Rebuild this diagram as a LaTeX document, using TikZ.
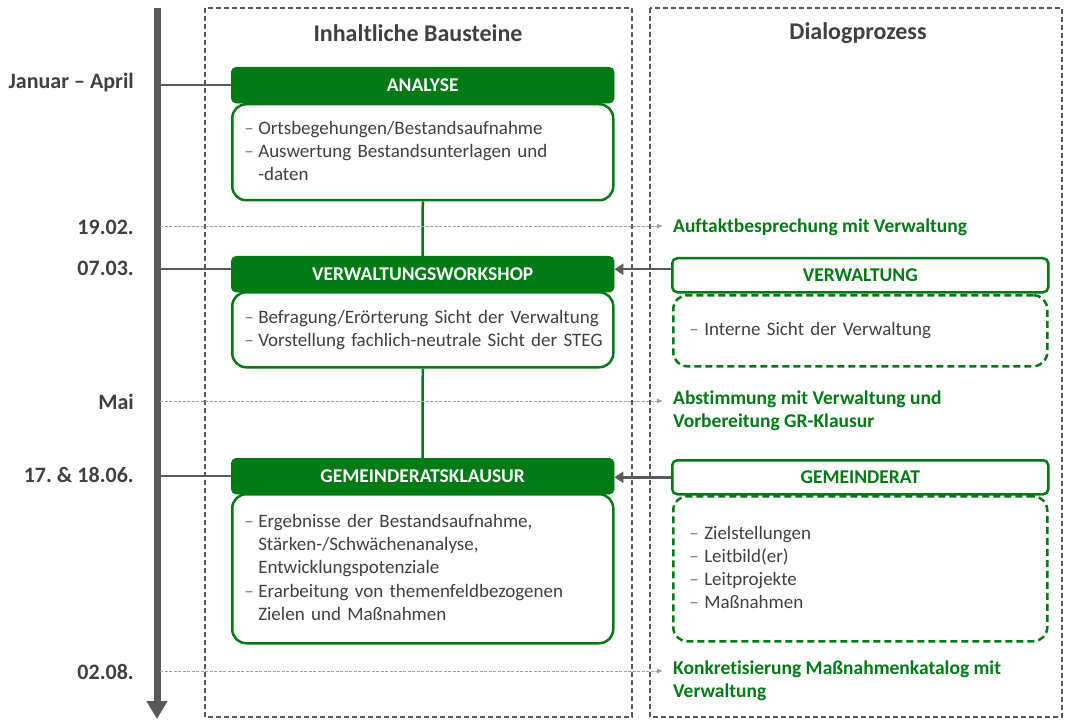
\documentclass[tikz,border=0pt]{standalone}
\usepackage{fontspec}
\setmainfont{Carlito}[Ligatures=NoCommon]
\usetikzlibrary{arrows.meta}
\definecolor{gr}{RGB}{0,122,20}
\definecolor{txt}{RGB}{64,64,64}
\definecolor{axisc}{RGB}{89,89,89}
\definecolor{dashc}{RGB}{120,120,120}
\newcommand{\bl}[2][14pt]{\par\noindent\makebox[#1][l]{\textcolor{dashc}{–}}\begin{tabular}[t]{@{}l@{}}#2\end{tabular}}
\newcommand{\fin}{\par\vspace*{6pt}}
\begin{document}
\begin{tikzpicture}[x=1pt,y=-1pt,
  hdr/.style={fill=gr, draw=gr, rounded corners=5pt, text=white, font=\fontsize{19.5}{22}\selectfont\bfseries, minimum width=383pt, minimum height=36pt, inner sep=0pt, anchor=north west},
  dhdr/.style={fill=white, draw=gr, line width=2.5pt, rounded corners=5pt, text=gr, font=\fontsize{19.5}{22}\selectfont\bfseries, minimum width=376pt, minimum height=34pt, inner sep=0pt, anchor=north west},
  bodybox/.style={draw=gr, line width=2.5pt, rounded corners=14pt, fill=white, anchor=north west, inner xsep=12pt, inner ysep=0pt, text width=357pt, align=left, text=txt, font=\fontsize{19}{23}\selectfont},
  dbody/.style={draw=gr, line width=2.5pt, dash pattern=on 7pt off 4pt, rounded corners=14pt, anchor=north west, inner xsep=16pt, inner ysep=0pt, text width=342pt, align=left, text=txt, font=\fontsize{19}{23}\selectfont},
  tlabel/.style={anchor=east, text=txt, font=\fontsize{22}{24}\selectfont\bfseries, inner sep=0pt},
  evt/.style={anchor=north west, text=gr, font=\fontsize{19.5}{22.5}\selectfont\bfseries, inner sep=0pt, align=left},
  coltitle/.style={text=txt, font=\fontsize{24}{26}\selectfont\bfseries, inner sep=0pt},
  coldash/.style={draw=axisc, line width=1.4pt, dash pattern=on 5pt off 3pt},
  tick/.style={draw=axisc, line width=2.2pt},
  evline/.style={draw=dashc!70, line width=0.9pt, dash pattern=on 3pt off 1.5pt, -{Latex[length=6pt,width=5pt]}},
  inarrow/.style={draw=axisc, line width=2.5pt, -{Triangle[length=9pt,width=11pt]}},
  link/.style={draw=gr, line width=2.5pt}
]
\useasboundingbox (0,0) rectangle (1066,722);
% columns
\draw[coldash] (205,8) rectangle (632,717);
\draw[coldash] (650,8) rectangle (1062,717);
\node[coltitle] (t1) at (418,33) {Inhaltliche Bausteine};
\node[coltitle] (t2) at (858,33) {Dialogprozess};
% axis
\coordinate (axtop) at (157,8);
\coordinate (axbot) at (157,719);
\draw[draw=axisc, line width=7pt, -{Triangle[length=18pt,width=20pt]}] (axtop) -- (axbot);
% time labels
\node[tlabel] (l1) at (134,83) {Januar – April};
\node[tlabel] (l2) at (134,227) {19.02.};
\node[tlabel] (l3) at (134,268) {07.03.};
\node[tlabel] (l4) at (134,402) {Mai};
\node[tlabel] (l5) at (134,475) {17.\ \& 18.06.};
\node[tlabel] (l6) at (134,672) {02.08.};
% left boxes
\node[bodybox, minimum height=96pt] (b1) at (231,103) {\bl{Ortsbegehungen/Bestandsaufnahme}\bl{Auswertung Bestandsunterlagen und\\-daten}\fin};
\node[hdr] (h1) at (231,67) {ANALYSE};
\node[bodybox, minimum height=75pt] (b2) at (231,291) {\bl{Befragung/Erörterung Sicht der Verwaltung}\bl{Vorstellung fachlich-neutrale Sicht der STEG}\fin};
\node[hdr] (h2) at (231,256) {VERWALTUNGSWORKSHOP};
\node[bodybox, minimum height=149pt] (b3) at (231,493) {\bl{Ergebnisse der Bestandsaufnahme,\\Stärken-/Schwächenanalyse,\\Entwicklungspotenziale}\bl{Erarbeitung von themenfeldbezogenen\\Zielen und Maßnahmen}\fin};
\node[hdr] (h3) at (231,458) {GEMEINDERATSKLAUSUR};
% links
\draw[link] (b1.south) -- (h2.north);
\draw[link] (b2.south) -- (h3.north);
% ticks
\coordinate (a1) at (157,85);
\coordinate (a3) at (157,269);
\coordinate (a5) at (157,476);
\draw[tick] (a1) -- (a1 -| h1.west);
\draw[tick] (a3) -- (a3 -| h2.west);
\draw[tick] (a5) -- (a5 -| h3.west);
% dialog boxes
\node[dhdr] (d1) at (671,257) {VERWALTUNG};
\node[dbody, minimum height=71pt] (e1) at (672,294) {\bl[15pt]{Interne Sicht der Verwaltung}\fin};
\node[dhdr] (d2) at (671,459) {GEMEINDERAT};
\node[dbody, minimum height=145pt] (e2) at (672,495) {\bl[15pt]{Zielstellungen}\bl[15pt]{Leitbild(er)}\bl[15pt]{Leitprojekte}\bl[15pt]{Maßnahmen}\fin};
\draw[inarrow] ([yshift=6pt]d1.west) -- ([yshift=6pt]d1.west -| h2.east);
\draw[inarrow] (d2.west) -- (d2.west -| h3.east);
% events
\node[evt, anchor=west] (v1) at (673,227) {Auftaktbesprechung mit Verwaltung};
\node[evt] (v2) at (673,391) {Abstimmung mit Verwaltung und\\Vorbereitung GR-Klausur};
\node[evt] (v3) at (673,661) {Konkretisierung Maßnahmenkatalog mit\\Verwaltung};
\coordinate (s2) at (160,226);
\coordinate (s4) at (160,401);
\coordinate (s6) at (160,671);
\coordinate (e2a) at (663,226);
\coordinate (e4a) at (663,401);
\coordinate (e6a) at (663,671);
\draw[evline] (s2) -- (e2a);
\draw[evline] (s4) -- (e4a);
\draw[evline] (s6) -- (e6a);
\end{tikzpicture}
\end{document}
